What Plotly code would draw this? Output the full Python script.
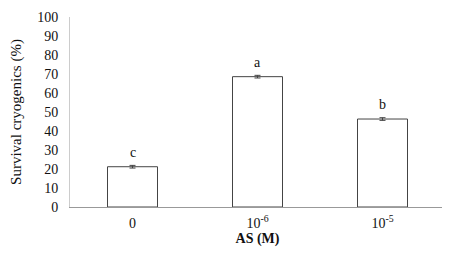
import plotly.graph_objects as go

categories = ["0", "10<sup>-6</sup>", "10<sup>-5</sup>"]
values = [21.2, 68.6, 46.3]
errors = [0.7, 0.7, 0.7]
letters = ["c", "a", "b"]

FONT = "Times New Roman, Liberation Serif, serif"

fig = go.Figure()
fig.add_trace(go.Bar(
    x=categories, y=values,
    marker=dict(color="white", line=dict(color="#444444", width=1)),
    width=0.4,
    error_y=dict(type="data", array=errors, color="#444444", thickness=1, width=3),
))
for c, v, l in zip(categories, values, letters):
    fig.add_annotation(x=c, y=v, text=l, showarrow=False, yanchor="bottom",
                       yshift=5, font=dict(family=FONT, size=14, color="#111111"))
fig.update_layout(
    width=442, height=248,
    margin=dict(l=62, r=5, t=2, b=49),
    plot_bgcolor="white", paper_bgcolor="white",
    showlegend=False,
    font=dict(family=FONT, size=14, color="#111111"),
    xaxis=dict(
        showline=True, linecolor="#999999", linewidth=1,
        ticks="outside", ticklen=3, tickcolor="rgba(0,0,0,0)", showgrid=False,
        title=dict(text="<b>AS (M)</b>", standoff=2, font=dict(size=14)),
    ),
    yaxis=dict(
        range=[0, 100], dtick=10,
        showline=True, linecolor="#cccccc", linewidth=1,
        ticks="outside", ticklen=8, tickcolor="rgba(0,0,0,0)",
        showgrid=False, zeroline=False,
        ticklabeloverflow="allow",
        title=dict(text="Survival cryogenics (%)", standoff=14, font=dict(size=15)),
    ),
)
fig.write_html("out.html")
